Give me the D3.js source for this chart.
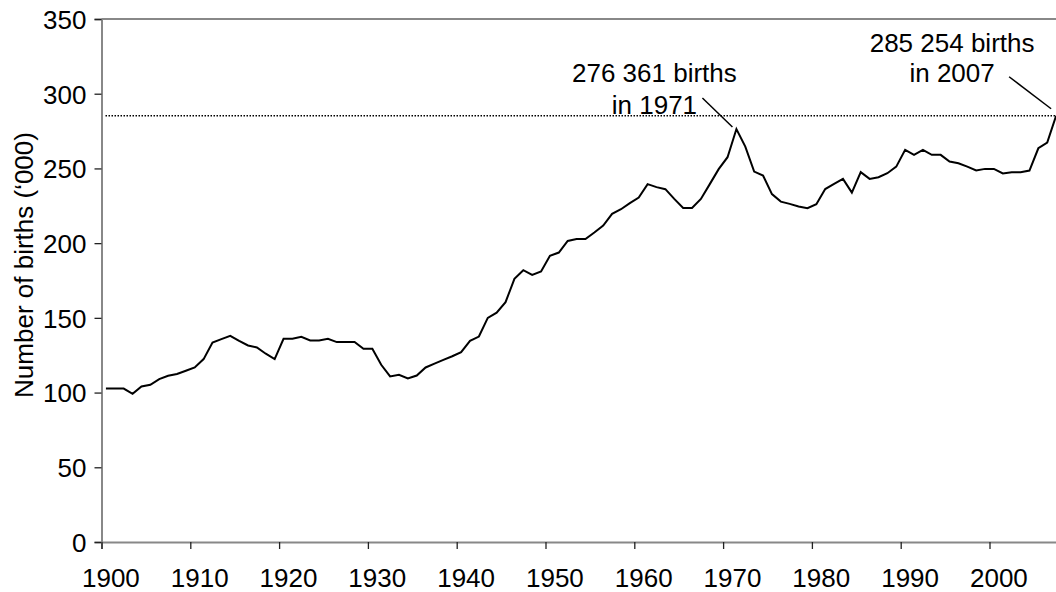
<!DOCTYPE html>
<html>
<head>
<meta charset="utf-8">
<title>Number of births</title>
<script src="https://cdn.jsdelivr.net/npm/d3@7"></script>
<style>
body { margin: 0; background: #fff; }
svg text { font-family: "Liberation Sans", Arial, sans-serif; fill: #000; }
</style>
</head>
<body>
<div id="chart"></div>
<script>

/* --------------------
  data (births, thousands)
-------------------- */

var years = d3.range(1900, 2008);

var births = [
  102.7, 102.7, 102.7, 99.2, 104.1, 105.2, 109.0, 111.2, 112.4, 114.6,
  116.8, 122.4, 133.5, 135.8, 138.0, 134.6, 131.5, 130.2, 126.0, 122.4,
  136.0, 136.0, 137.3, 134.9, 134.9, 136.0, 133.8, 133.8, 133.8, 129.3,
  129.3, 118.6, 110.8, 111.9, 109.4, 111.4, 116.8, 119.4, 121.9, 124.3,
  127.1, 134.6, 137.5, 150.0, 153.5, 160.5, 176.1, 181.9, 178.8, 181.0,
  191.5, 193.7, 201.5, 202.7, 202.7, 207.1, 211.8, 219.6, 222.7, 226.8,
  230.5, 239.5, 237.5, 236.1, 229.6, 223.6, 223.6, 229.6, 239.5, 249.5,
  257.5, 276.361, 264.6, 247.9, 245.2, 232.8, 227.8, 226.3, 224.5, 223.4,
  226.1, 236.2, 239.6, 243.0, 233.8, 247.5, 243.0, 244.1, 246.8, 251.2,
  262.4, 259.1, 262.4, 259.1, 259.1, 254.6, 253.5, 251.2, 248.6, 249.7,
  249.7, 246.6, 247.5, 247.5, 248.6, 263.5, 267.3, 285.254
];

var xTicks = [1900, 1910, 1920, 1930, 1940, 1950, 1960, 1970, 1980, 1990, 2000];
var yTicks = [0, 50, 100, 150, 200, 250, 300, 350];

var peakYear = 1971, peakLines = ["276 361 births", "in 1971"];
var lastYear = 2007, lastLines = ["285 254 births", "in 2007"];
var refLevel = 285.254;

/* --------------------
  layout
-------------------- */

var width = 1056, height = 592;
var plotLeft = 101.5, plotTop = 19, plotBottom = 542;
var slot = 8.88;

var svg = d3.select("#chart").append("svg")
    .attr("width", width)
    .attr("height", height);

var x = d3.scaleLinear()
    .domain([1900, 2008])
    .range([plotLeft, plotLeft + 108 * slot]);

var y = d3.scaleLinear()
    .domain([0, 350])
    .range([plotBottom, plotTop]);

// each year sits in the middle of its slot
function px(yr) { return x(yr + 0.5); }

/* top frame line */
svg.append("line")
    .attr("x1", plotLeft).attr("x2", width)
    .attr("y1", y(350)).attr("y2", y(350))
    .attr("stroke", "#888").attr("stroke-width", 2);

/* y axis */
var yAxis = svg.append("g")
    .attr("transform", "translate(" + plotLeft + ",0)")
    .call(d3.axisLeft(y).tickValues(yTicks).tickSize(7).tickPadding(8));
yAxis.select(".domain").attr("stroke", "#888").attr("stroke-width", 2);
yAxis.selectAll(".tick line").attr("stroke", "#222").attr("stroke-width", 1.3);
yAxis.selectAll(".tick text")
    .style("font-size", "26px")
    .attr("dy", "0.36em");

/* x axis */
var xAxis = svg.append("g")
    .attr("transform", "translate(0," + plotBottom + ")")
    .call(d3.axisBottom(x).tickValues(xTicks).tickSize(7).tickPadding(20)
      .tickFormat(d3.format("d")));
xAxis.select(".domain").attr("stroke", "#888").attr("stroke-width", 2);
xAxis.selectAll(".tick line").attr("stroke", "#222").attr("stroke-width", 1.3);
xAxis.selectAll(".tick text")
    .style("font-size", "26px")
    .attr("x", slot);

/* axis title */
svg.append("text")
    .attr("transform", "translate(32.5," + 265 + ") rotate(-90)")
    .attr("text-anchor", "middle")
    .style("font-size", "26px")
    .text("Number of births (\u2018000)");

/* dotted reference line at the 2007 level */
svg.append("line")
    .attr("x1", plotLeft + 4).attr("x2", width)
    .attr("y1", y(refLevel)).attr("y2", y(refLevel))
    .attr("stroke", "#000").attr("stroke-width", 1.5)
    .attr("stroke-dasharray", "1.5,1.5");

/* births line */
var line = d3.line()
    .x(function(d, i) { return px(years[i]); })
    .y(function(d) { return y(d); });

svg.append("path")
    .datum(births)
    .attr("d", line)
    .attr("fill", "none")
    .attr("stroke", "#000")
    .attr("stroke-width", 2)
    .attr("stroke-linejoin", "miter");

/* annotations */
function annotate(yr, lines, dxText, dyText, lead) {
  var ax = px(yr), ay = y(births[years.indexOf(yr)]);
  var t = svg.append("text")
      .attr("text-anchor", "middle")
      .style("font-size", "26px");
  lines.forEach(function(s, i) {
    t.append("tspan")
      .attr("x", ax + dxText)
      .attr("y", ay + dyText[i])
      .text(s);
  });
  svg.append("line")
      .attr("x1", ax + lead[0]).attr("y1", ay + lead[1])
      .attr("x2", ax + lead[2]).attr("y2", ay + lead[3])
      .attr("stroke", "#000").attr("stroke-width", 1.5);
}

annotate(peakYear, peakLines, -82, [-47, -15], [-34, -31, -4, -2]);
annotate(lastYear, lastLines, -104, [-64, -34], [-47, -39, -5, -7]);

</script>
</body>
</html>
